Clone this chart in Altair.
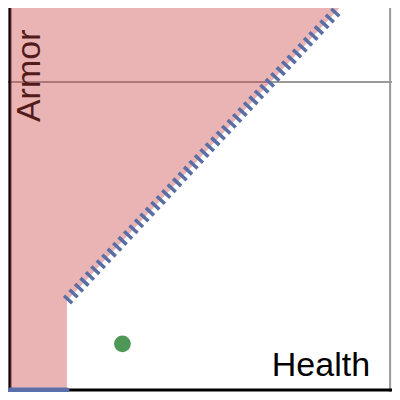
import altair as alt
import pandas as pd

# Scale extents (data units)
x_domain = [-0.25, 50.25]
y_domain = [-0.25, 49.6]

# Shaded region (Armor lower boundary along Health)
region_health = [0.0, 7.5, 7.5, 43.35]
region_armor = [0.0, 0.0, 11.6, 49.6]
region_top = 49.6

# Dashed boundary line
line_health = [7.5, 43.35]
line_armor = [11.6, 49.6]

# Solid segment on the Health axis
seg_health = [0.0, 7.5]
seg_armor = [0.0, 0.0]

# Point
pt_health = [14.8]
pt_armor = [6.0]

# Grid lines
grid_health = [50.0]
grid_armor = [40.0]

# Labels
label_text = ["Health", "Armor"]
label_health = [40.9, 3.95]
label_armor = [1.8, 40.8]

X = lambda f: alt.X(f, type="quantitative", scale=alt.Scale(domain=x_domain, nice=False, zero=False), axis=None)
Y = lambda f: alt.Y(f, type="quantitative", scale=alt.Scale(domain=y_domain, nice=False, zero=False), axis=None)

vgrid = alt.Chart(pd.DataFrame({"h": grid_health, "a0": [y_domain[0]], "a1": [y_domain[1]]})).mark_rule(
    color="#9a9a9a", strokeWidth=2).encode(x=X("h"), y=Y("a0"), y2=alt.Y2("a1"))
hgrid = alt.Chart(pd.DataFrame({"a": grid_armor, "h0": [x_domain[0]], "h1": [x_domain[1]]})).mark_rule(
    color="#9a9a9a", strokeWidth=2).encode(y=Y("a"), x=X("h0"), x2=alt.X2("h1"))

vaxis = alt.Chart(pd.DataFrame({"h": [0.0], "a0": [y_domain[0]], "a1": [y_domain[1]]})).mark_rule(
    color="black", strokeWidth=3).encode(x=X("h"), y=Y("a0"), y2=alt.Y2("a1"))
haxis = alt.Chart(pd.DataFrame({"a": [0.0], "h0": [x_domain[0]], "h1": [x_domain[1]]})).mark_rule(
    color="black", strokeWidth=3).encode(y=Y("a"), x=X("h0"), x2=alt.X2("h1"))

health_lbl = alt.Chart(pd.DataFrame({"t": [label_text[0]], "h": [label_health[0]], "a": [label_armor[0]]})).mark_text(
    font="Liberation Sans", fontSize=34, align="center", baseline="alphabetic", color="black").encode(
    x=X("h"), y=Y("a"), text="t:N")
armor_lbl = alt.Chart(pd.DataFrame({"t": [label_text[1]], "h": [label_health[1]], "a": [label_armor[1]]})).mark_text(
    font="Liberation Sans", fontSize=34, align="center", baseline="alphabetic", angle=270, color="black").encode(
    x=X("h"), y=Y("a"), text="t:N")

region_df = pd.DataFrame({"h": region_health, "a": region_armor,
                          "ceil": [region_top] * len(region_health)})
region = alt.Chart(region_df).mark_area(fill="#c74440", fillOpacity=0.4, orient="vertical").encode(
    x=X("h"), y=Y("a"), y2=alt.Y2("ceil"))

dline = alt.Chart(pd.DataFrame({"h": line_health, "a": line_armor})).mark_line(
    stroke="#5a6ea6", strokeWidth=11, strokeDash=[3.5, 4.5], strokeCap="butt").encode(
    x=X("h"), y=Y("a"))

seg = alt.Chart(pd.DataFrame({"h": seg_health, "a": seg_armor})).mark_line(
    color="#5b6fa8", strokeWidth=5, strokeCap="round").encode(x=X("h"), y=Y("a"))

pt = alt.Chart(pd.DataFrame({"h": pt_health, "a": pt_armor})).mark_point(
    filled=True, color="#4d9857", opacity=1, size=280).encode(x=X("h"), y=Y("a"))

chart = alt.layer(vgrid, hgrid, vaxis, haxis, health_lbl, armor_lbl, region, dline, seg, pt).properties(
    width=384, height=384, padding=0, autosize=alt.AutoSizeParams(type="none")
).configure_view(stroke=None)

chart.save("out.html", embed_options={"renderer": "svg", "actions": False})
